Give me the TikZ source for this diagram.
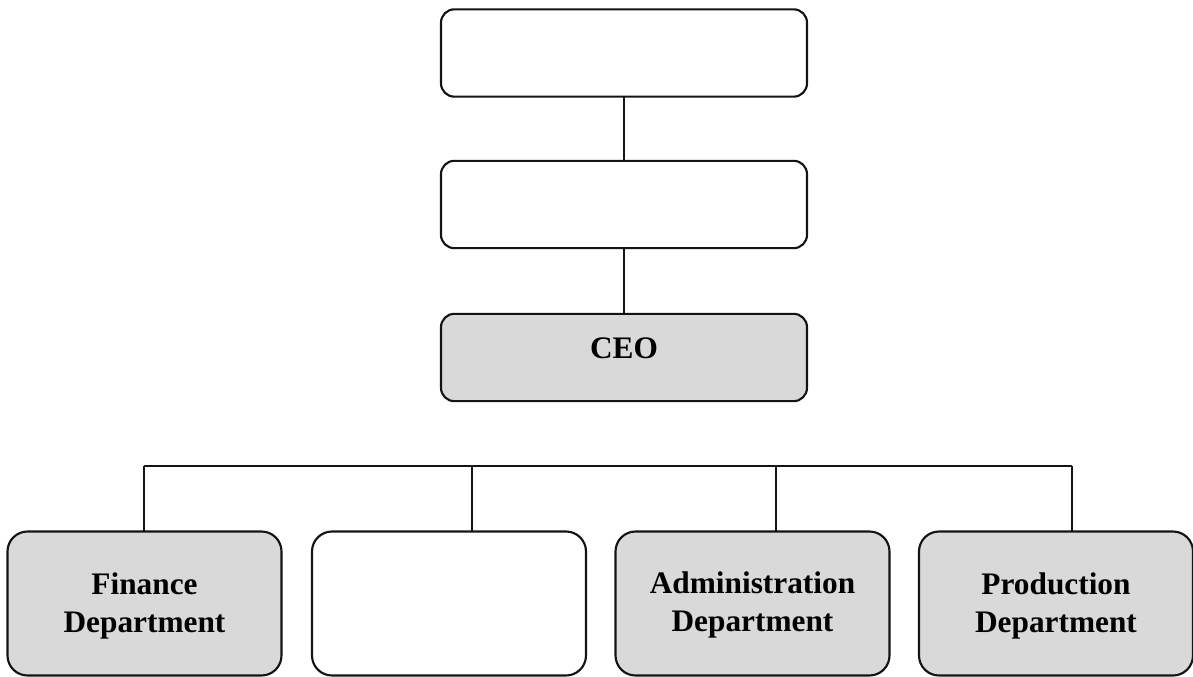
\documentclass[tikz,border=0pt]{standalone}
\usepackage{fontspec}
\setmainfont{Liberation Serif}
\definecolor{boxgray}{RGB}{217,217,217}
\definecolor{edge}{RGB}{20,20,20}
\begin{document}
\begin{tikzpicture}[x=0.75pt,y=-0.75pt,
  topbox/.style={draw=edge,line width=1.6pt,rounded corners=10pt,inner sep=0pt,outer sep=0pt,
     minimum width=274.5pt,minimum height=65.5pt},
  deptbox/.style={draw=edge,line width=1.6pt,rounded corners=15pt,inner sep=0pt,outer sep=0pt,
     minimum width=205.5pt,minimum height=108pt},
  shaded/.style={fill=boxgray},
  lbl/.style={font=\fontsize{23.5}{28.5}\selectfont\bfseries,align=center,inner sep=0pt},
  conn/.style={draw=edge,line width=1.3pt}]
\useasboundingbox (0,0) rectangle (1193,677);
% top column
\node[topbox] (top) at (624,53) {};
\node[topbox] (mid) at (624,204.5) {};
\node[topbox,shaded] (ceo) at (624,357.5) {};
\node[lbl] (ceolbl) at (624,348) {CEO};
% departments
\node[deptbox,shaded] (fin) at (144.5,603.5) {};
\node[deptbox] (blank) at (449,603.5) {};
\node[deptbox,shaded] (adm) at (752.5,603.5) {};
\node[deptbox,shaded] (prod) at (1056,603.5) {};
\node[lbl] (finlbl) at (144.5,606) {Finance\\Department};
\node[lbl] (admlbl) at (752.5,605) {Administration\\Department};
\node[lbl] (prodlbl) at (1056,606) {Production\\Department};
% connectors
\draw[conn] (top) -- (mid);
\draw[conn] (mid) -- (ceo);
\coordinate (b1) at (144,466);
\coordinate (b2) at (472,466);
\coordinate (b3) at (776,466);
\coordinate (b4) at (1072,466);
\draw[conn] (b1) -- (b4);
\draw[conn] (b1) -- (b1 |- fin.north);
\draw[conn] (b2) -- (b2 |- blank.north);
\draw[conn] (b3) -- (b3 |- adm.north);
\draw[conn] (b4) -- (b4 |- prod.north);
\end{tikzpicture}
\end{document}
